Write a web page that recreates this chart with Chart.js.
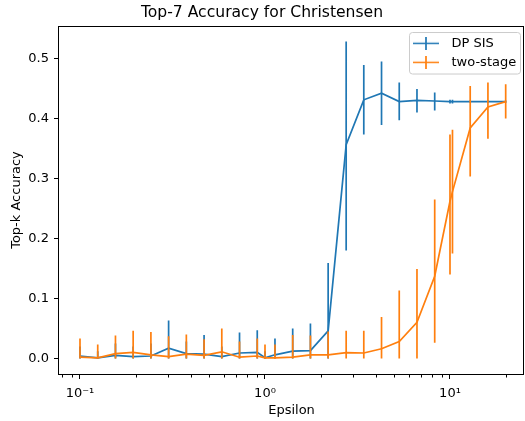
<!DOCTYPE html>
<html>
<head>
<meta charset="utf-8">
<script src="https://cdn.jsdelivr.net/npm/chart.js@4.4.1/dist/chart.umd.min.js"></script>
<style>
html,body{margin:0;padding:0;background:#ffffff;}
canvas{display:block;}
</style>
</head>
<body>
<canvas id="chart" width="525" height="421"></canvas>
<script>
// ---- data ----
const epsilons = [0.1, 0.1247, 0.1555, 0.1938, 0.2417, 0.3013, 0.3757, 0.4685, 0.5841, 0.7283, 0.9081,
  1.0, 1.1322, 1.4117, 1.7602, 2.1947, 2.7464, 3.4199, 4.2647, 5.3174, 6.6298, 8.2669,
  10.0, 10.3134, 12.8594, 16.0347, 20.0];

const dpSisMean = [0.004, 0.001, 0.005, 0.003, 0.004, 0.017, 0.008, 0.007, 0.003, 0.009, 0.010,
  0.001, 0.006, 0.012, 0.013, 0.046, 0.356, 0.431, 0.442, 0.428, 0.430, 0.429,
  0.428, 0.428, 0.428, 0.428, 0.428];
const dpSisLow = [0, 0, 0, 0, 0, 0, 0, 0, 0, 0, 0,
  0, 0, 0, 0, 0, 0.180, 0.373, 0.389, 0.397, 0.410, 0.413,
  0.425, 0.425, 0.426, 0.426, 0.426];
const dpSisHigh = [0.020, 0.012, 0.025, 0.020, 0.025, 0.063, 0.028, 0.039, 0.020, 0.043, 0.047,
  0.012, 0.033, 0.050, 0.058, 0.159, 0.528, 0.489, 0.495, 0.460, 0.449, 0.443,
  0.431, 0.431, 0.430, 0.430, 0.430];

const twoStageMean = [0.002, 0.001, 0.008, 0.010, 0.006, 0.003, 0.007, 0.005, 0.011, 0.002, 0.004,
  0.001, 0.001, 0.002, 0.006, 0.006, 0.0095, 0.009, 0.016, 0.028, 0.060, 0.137,
  0.262, 0.278, 0.384, 0.419, 0.428];
const twoStageLow = [0, 0, 0, 0, 0, 0, 0, 0, 0, 0, 0,
  0, 0, 0, 0, 0, 0, 0, 0, 0, 0, 0.026,
  0.140, 0.175, 0.303, 0.366, 0.400];
const twoStageHigh = [0.033, 0.023, 0.038, 0.046, 0.044, 0.037, 0.040, 0.032, 0.050, 0.028, 0.033,
  0.023, 0.023, 0.039, 0.038, 0.045, 0.046, 0.046, 0.069, 0.113, 0.149, 0.265,
  0.373, 0.381, 0.454, 0.460, 0.457];

const seriesNames = ['DP SIS', 'two-stage'];
const xTickValues = [0.1, 1, 10];
const xTickLabels = ['10\u207B\u00B9', '10\u2070', '10\u00B9'];
const xMinorTicks = [0.08, 0.09, 0.2, 0.3, 0.4, 0.5, 0.6, 0.7, 0.8, 0.9, 2, 3, 4, 5, 6, 7, 8, 9, 20];
const yTickValues = [0, 0.1, 0.2, 0.3, 0.4, 0.5];
const xRange = [0.077, 25.12];
const yRange = [-0.026, 0.554];

// ---- styling ----
const BLUE = '#1f77b4';
const ORANGE = '#ff7f0e';
const FONT = "'DejaVu Sans', 'Liberation Sans', sans-serif";
const LW = 1.7;

function toPoints(xs, ys) { return xs.map((x, i) => ({x: x, y: ys[i]})); }
function toBars(xs, lo, hi) {
  const out = [];
  xs.forEach((x, i) => { out.push({x: x, y: lo[i]}, {x: x, y: hi[i]}, {x: x, y: null}); });
  return out;
}
function handleIcon(color) {
  const c = document.createElement('canvas');
  c.width = 26; c.height = 13;
  const g = c.getContext('2d');
  g.strokeStyle = color; g.lineWidth = LW;
  g.beginPath();
  g.moveTo(0, 6.5); g.lineTo(26, 6.5);
  g.moveTo(13, 0); g.lineTo(13, 13);
  g.stroke();
  return c;
}

const lineBase = {pointRadius: 0, pointHoverRadius: 0, borderWidth: LW, tension: 0, fill: false, spanGaps: false};

const decor = {
  id: 'decor',
  afterLayout(chart) {
    const lg = chart.legend, a = chart.chartArea;
    const w = lg.width, h = lg.height;
    lg.left = a.right - 123; lg.right = lg.left + w;
    lg.top = a.top + 4.8; lg.bottom = lg.top + h;
  },
  beforeDraw(chart) {
    const ctx = chart.ctx, a = chart.chartArea;
    const x0 = a.right - 114.5, x1 = a.right - 3.5, y0 = a.top + 6.5, y1 = a.top + 48;
    const r = 3;
    ctx.save();
    ctx.beginPath();
    ctx.moveTo(x0 + r, y0); ctx.lineTo(x1 - r, y0); ctx.quadraticCurveTo(x1, y0, x1, y0 + r);
    ctx.lineTo(x1, y1 - r); ctx.quadraticCurveTo(x1, y1, x1 - r, y1);
    ctx.lineTo(x0 + r, y1); ctx.quadraticCurveTo(x0, y1, x0, y1 - r);
    ctx.lineTo(x0, y0 + r); ctx.quadraticCurveTo(x0, y0, x0 + r, y0);
    ctx.closePath();
    ctx.fillStyle = 'rgba(255,255,255,0.8)';
    ctx.fill();
    ctx.strokeStyle = '#cccccc'; ctx.lineWidth = 1;
    ctx.stroke();
    ctx.restore();
  },
  afterDraw(chart) {
    const ctx = chart.ctx, a = chart.chartArea, sx = chart.scales.x;
    ctx.save();
    ctx.strokeStyle = '#000'; ctx.lineWidth = 1;
    ctx.strokeRect(Math.round(a.left) - 0.5, Math.round(a.top) + 0.5,
      Math.round(a.right - a.left), Math.round(a.bottom - a.top));
    ctx.beginPath();
    xMinorTicks.forEach(v => {
      const px = Math.round(sx.getPixelForValue(v)) + 0.5;
      if (px < a.left || px > a.right) return;
      ctx.moveTo(px, Math.round(a.bottom) + 0.5);
      ctx.lineTo(px, Math.round(a.bottom) + 3.5);
    });
    ctx.stroke();
    ctx.restore();
  }
};

new Chart(document.getElementById('chart'), {
  type: 'line',
  data: {
    datasets: [
      Object.assign({label: seriesNames[1], data: toPoints(epsilons, twoStageMean), borderColor: ORANGE, order: 0}, lineBase),
      Object.assign({label: seriesNames[1] + ' err', data: toBars(epsilons, twoStageLow, twoStageHigh), borderColor: ORANGE, order: 0}, lineBase),
      Object.assign({label: seriesNames[0], data: toPoints(epsilons, dpSisMean), borderColor: BLUE, order: 1}, lineBase),
      Object.assign({label: seriesNames[0] + ' err', data: toBars(epsilons, dpSisLow, dpSisHigh), borderColor: BLUE, order: 1}, lineBase)
    ]
  },
  options: {
    responsive: false,
    animation: false,
    devicePixelRatio: 1,
    layout: {padding: {left: 0, right: 1, top: 0, bottom: 0}},
    plugins: {
      tooltip: {enabled: false},
      title: {
        display: true, text: 'Top-7 Accuracy for Christensen', color: '#000',
        font: {family: FONT, size: 15.6, weight: 'normal'},
        padding: {top: 4, bottom: 3.3}
      },
      legend: {
        display: true, position: 'chartArea', align: 'start',
        labels: {
          usePointStyle: true, pointStyleWidth: 38, padding: 6, color: '#000',
          font: {family: FONT, size: 13},
          generateLabels: () => [
            {text: seriesNames[0], pointStyle: handleIcon(BLUE), fillStyle: BLUE, strokeStyle: BLUE, lineWidth: 0, hidden: false, datasetIndex: 2},
            {text: seriesNames[1], pointStyle: handleIcon(ORANGE), fillStyle: ORANGE, strokeStyle: ORANGE, lineWidth: 0, hidden: false, datasetIndex: 0}
          ]
        }
      }
    },
    scales: {
      x: {
        type: 'logarithmic', position: 'bottom', min: xRange[0], max: xRange[1],
        afterBuildTicks: s => { s.ticks = xTickValues.map(v => ({value: v})); },
        afterFit: s => { s.height = 47; },
        ticks: {
          autoSkip: false, maxRotation: 0, color: '#000', padding: 7,
          font: {family: FONT, size: 13},
          callback: v => { const i = xTickValues.indexOf(v); return i >= 0 ? xTickLabels[i] : ''; }
        },
        grid: {drawOnChartArea: false, drawTicks: true, tickLength: 5, tickColor: '#000', tickWidth: 1},
        border: {display: false},
        title: {display: true, text: 'Epsilon', color: '#000', font: {family: FONT, size: 13}, padding: {top: 0, bottom: 3}}
      },
      y: {
        type: 'linear', min: yRange[0], max: yRange[1],
        afterBuildTicks: s => { s.ticks = yTickValues.map(v => ({value: v})); },
        afterFit: s => { s.width = 59; },
        ticks: {color: '#000', padding: 5, font: {family: FONT, size: 13}, callback: v => Number(v).toFixed(1)},
        grid: {drawOnChartArea: false, drawTicks: true, tickLength: 5, tickColor: '#000', tickWidth: 1},
        border: {display: false},
        title: {display: true, text: 'Top-k Accuracy', color: '#000', font: {family: FONT, size: 13}, padding: {top: 9, bottom: 0}}
      }
    }
  },
  plugins: [decor]
});
</script>
</body>
</html>
